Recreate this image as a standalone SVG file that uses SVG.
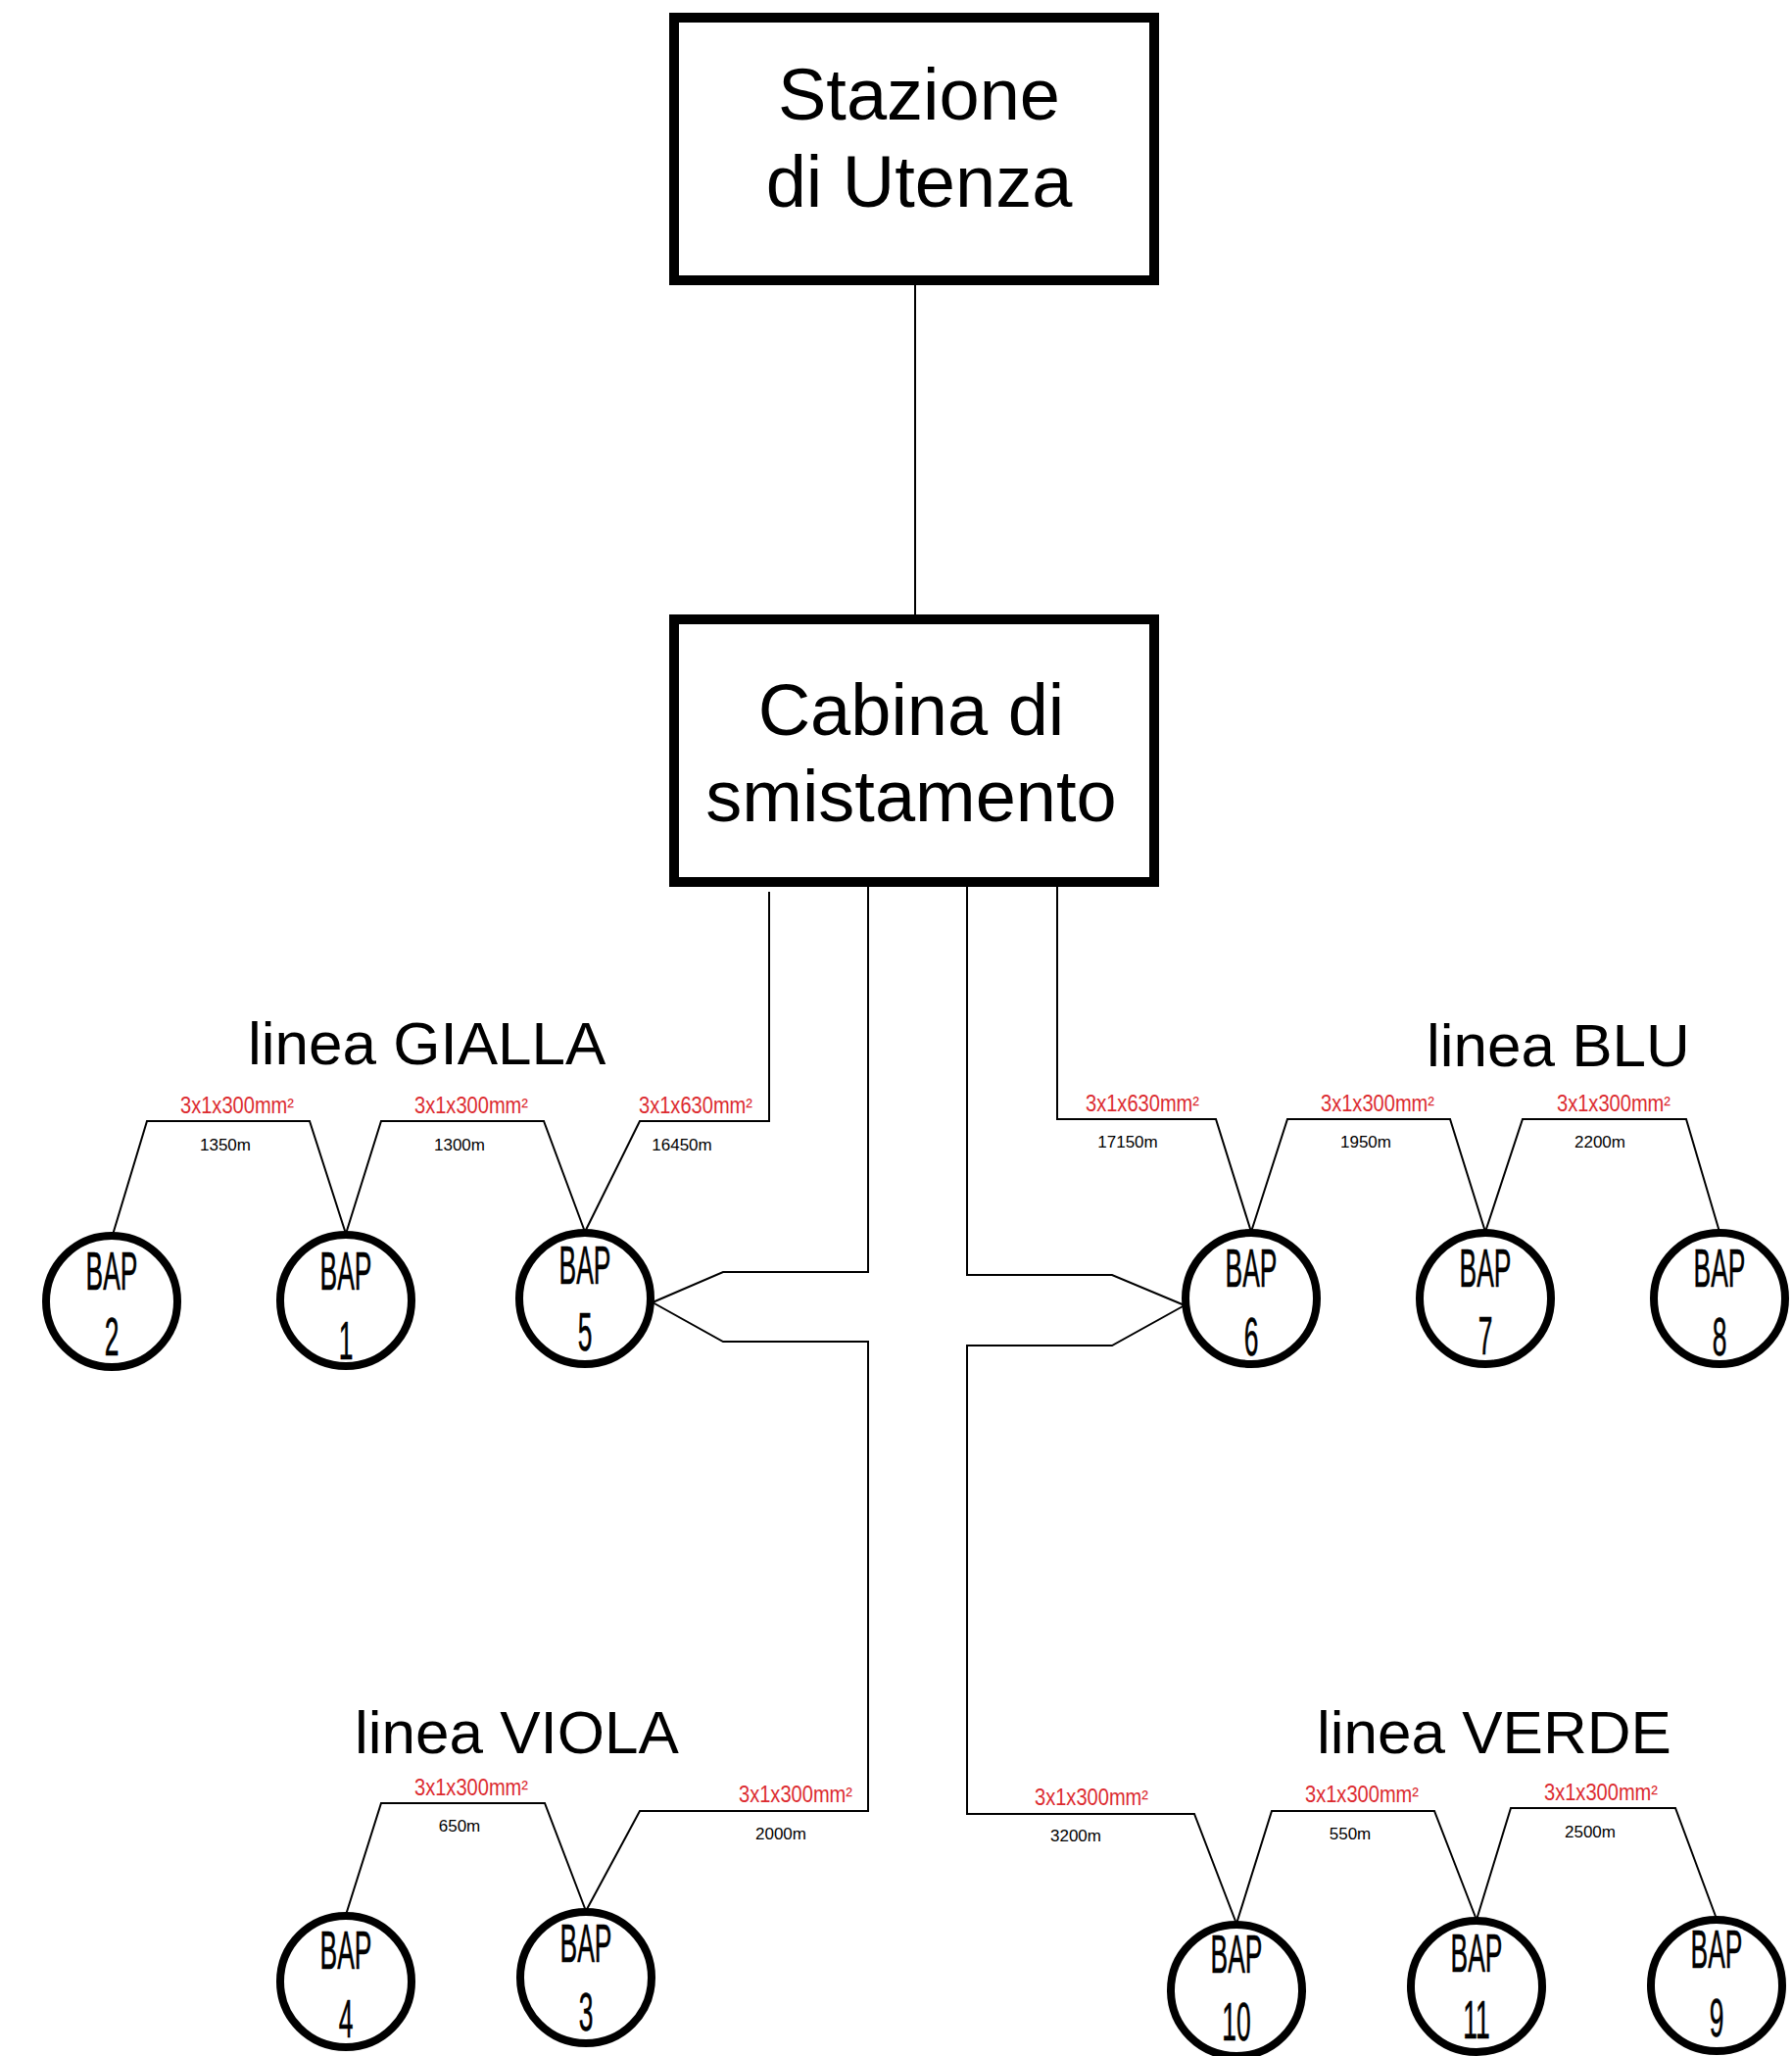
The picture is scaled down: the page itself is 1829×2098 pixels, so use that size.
<svg xmlns="http://www.w3.org/2000/svg" width="1829" height="2098" viewBox="0 0 1829 2098">
<style>
.box{fill:#fff;stroke:#000;stroke-width:10}
.big{font-family:"Liberation Sans",Arial,sans-serif;font-size:74px;fill:#000;text-anchor:middle}
.title{font-family:"Liberation Sans",Arial,sans-serif;font-size:62px;fill:#000}
.bap{fill:#fff;stroke:#000;stroke-width:8}
.bt{font-family:"Liberation Sans",Arial,sans-serif;font-size:55px;fill:#000;text-anchor:middle;stroke:#000;stroke-width:0.6}
.red{font-family:"Liberation Sans",Arial,sans-serif;font-size:23px;fill:#dc2b30;text-anchor:middle}
.len{font-family:"Liberation Sans",Arial,sans-serif;font-size:17px;fill:#000;text-anchor:middle}
.wire{fill:none;stroke:#000;stroke-width:2;stroke-linejoin:miter}
</style>
<rect width="1829" height="2098" fill="#fff"/>
<g id="connectors">
<path class="wire" d="M934 291 V627"/>
<path class="wire" d="M785 910 V1144 H653 L597 1257"/>
<path class="wire" d="M597 1257 L555 1144 H389 L353 1259"/>
<path class="wire" d="M353 1259 L316 1144 H150 L115 1260"/>
<path class="wire" d="M1079 905 V1142 H1241 L1277 1257"/>
<path class="wire" d="M1277 1257 L1314 1142 H1480 L1516 1257"/>
<path class="wire" d="M1516 1257 L1554 1142 H1721 L1755 1257"/>
<path class="wire" d="M886 905 V1298 H738 L666 1329"/>
<path class="wire" d="M666 1329 L738 1369 H886 V1848 H653 L598 1950"/>
<path class="wire" d="M598 1950 L556 1840 H389 L353 1954"/>
<path class="wire" d="M987 905 V1301 H1135 L1209 1332"/>
<path class="wire" d="M1209 1332 L1135 1373 H987 V1851 H1219 L1262 1963"/>
<path class="wire" d="M1262 1963 L1298 1848 H1464 L1507 1959"/>
<path class="wire" d="M1507 1959 L1542 1845 H1710 L1752 1958"/>
</g>
<g id="labels">
<text class="title" x="253" y="1086">linea GIALLA</text>
<text class="title" x="1456" y="1088">linea BLU</text>
<text class="title" x="362" y="1789">linea VIOLA</text>
<text class="title" x="1344" y="1789">linea VERDE</text>
<text class="red" x="242" y="1136" textLength="116" lengthAdjust="spacingAndGlyphs">3x1x300mm²</text>
<text class="len" x="230" y="1174">1350m</text>
<text class="red" x="481" y="1136" textLength="116" lengthAdjust="spacingAndGlyphs">3x1x300mm²</text>
<text class="len" x="469" y="1174">1300m</text>
<text class="red" x="710" y="1136" textLength="116" lengthAdjust="spacingAndGlyphs">3x1x630mm²</text>
<text class="len" x="696" y="1174">16450m</text>
<text class="red" x="1166" y="1134" textLength="116" lengthAdjust="spacingAndGlyphs">3x1x630mm²</text>
<text class="len" x="1151" y="1171">17150m</text>
<text class="red" x="1406" y="1134" textLength="116" lengthAdjust="spacingAndGlyphs">3x1x300mm²</text>
<text class="len" x="1394" y="1171">1950m</text>
<text class="red" x="1647" y="1134" textLength="116" lengthAdjust="spacingAndGlyphs">3x1x300mm²</text>
<text class="len" x="1633" y="1171">2200m</text>
<text class="red" x="481" y="1832" textLength="116" lengthAdjust="spacingAndGlyphs">3x1x300mm²</text>
<text class="len" x="469" y="1869">650m</text>
<text class="red" x="812" y="1839" textLength="116" lengthAdjust="spacingAndGlyphs">3x1x300mm²</text>
<text class="len" x="797" y="1877">2000m</text>
<text class="red" x="1114" y="1842" textLength="116" lengthAdjust="spacingAndGlyphs">3x1x300mm²</text>
<text class="len" x="1098" y="1879">3200m</text>
<text class="red" x="1390" y="1839" textLength="116" lengthAdjust="spacingAndGlyphs">3x1x300mm²</text>
<text class="len" x="1378" y="1877">550m</text>
<text class="red" x="1634" y="1837" textLength="116" lengthAdjust="spacingAndGlyphs">3x1x300mm²</text>
<text class="len" x="1623" y="1875">2500m</text>
</g>
<g id="stazione">
<rect class="box" x="688" y="18" width="490" height="268"/>
<text class="big" x="938" y="122">Stazione</text>
<text class="big" x="938" y="211">di Utenza</text>
</g>
<g id="cabina">
<rect class="box" x="688" y="632" width="490" height="268"/>
<text class="big" x="930" y="750">Cabina di</text>
<text class="big" x="930" y="838">smistamento</text>
</g>
<g id="bap2"><circle class="bap" cx="114" cy="1328" r="67"/><text class="bt" transform="translate(114 1316) scale(0.48 1)">BAP</text><text class="bt" transform="translate(114 1383) scale(0.48 1)">2</text></g>
<g id="bap1"><circle class="bap" cx="353" cy="1327" r="67"/><text class="bt" transform="translate(353 1316) scale(0.48 1)">BAP</text><text class="bt" transform="translate(353 1387) scale(0.48 1)">1</text></g>
<g id="bap5"><circle class="bap" cx="597" cy="1325" r="67"/><text class="bt" transform="translate(597 1310) scale(0.48 1)">BAP</text><text class="bt" transform="translate(597 1378) scale(0.48 1)">5</text></g>
<g id="bap6"><circle class="bap" cx="1277" cy="1325" r="67"/><text class="bt" transform="translate(1277 1313) scale(0.48 1)">BAP</text><text class="bt" transform="translate(1277 1383) scale(0.48 1)">6</text></g>
<g id="bap7"><circle class="bap" cx="1516" cy="1325" r="67"/><text class="bt" transform="translate(1516 1313) scale(0.48 1)">BAP</text><text class="bt" transform="translate(1516 1382) scale(0.48 1)">7</text></g>
<g id="bap8"><circle class="bap" cx="1755" cy="1325" r="67"/><text class="bt" transform="translate(1755 1313) scale(0.48 1)">BAP</text><text class="bt" transform="translate(1755 1383) scale(0.48 1)">8</text></g>
<g id="bap4"><circle class="bap" cx="353" cy="2022" r="67"/><text class="bt" transform="translate(353 2009) scale(0.48 1)">BAP</text><text class="bt" transform="translate(353 2079) scale(0.48 1)">4</text></g>
<g id="bap3"><circle class="bap" cx="598" cy="2018" r="67"/><text class="bt" transform="translate(598 2002) scale(0.48 1)">BAP</text><text class="bt" transform="translate(598 2072) scale(0.48 1)">3</text></g>
<g id="bap10"><circle class="bap" cx="1262" cy="2031" r="67"/><text class="bt" transform="translate(1262 2013) scale(0.48 1)">BAP</text><text class="bt" transform="translate(1262 2082) scale(0.48 1)">10</text></g>
<g id="bap11"><circle class="bap" cx="1507" cy="2027" r="67"/><text class="bt" transform="translate(1507 2012) scale(0.48 1)">BAP</text><text class="bt" transform="translate(1507 2080) scale(0.48 1)">11</text></g>
<g id="bap9"><circle class="bap" cx="1752" cy="2026" r="67"/><text class="bt" transform="translate(1752 2008) scale(0.48 1)">BAP</text><text class="bt" transform="translate(1752 2078) scale(0.48 1)">9</text></g>
</svg>
